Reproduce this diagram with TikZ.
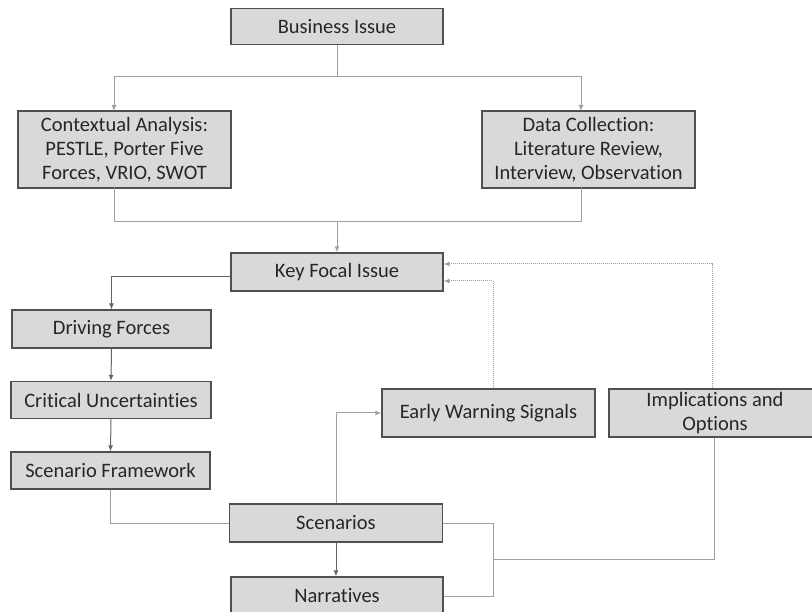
\documentclass[tikz,border=0pt]{standalone}
\usepackage{fontspec}
\setmainfont{Carlito}[Ligatures=NoCommon]
\usetikzlibrary{arrows.meta}

\definecolor{boxfill}{RGB}{217,217,217}
\definecolor{boxline}{RGB}{80,80,80}
\definecolor{linkgray}{RGB}{160,160,160}
\definecolor{flowgray}{RGB}{100,100,100}

\begin{document}
\begin{tikzpicture}[x=1pt, y=-1pt,
  >={Latex[length=6pt,width=5pt]},
  box/.style={draw=boxline, fill=boxfill, line width=1.3pt, inner sep=2pt,
    font=\fontsize{20.5}{24}\selectfont, align=center, text=black!85},
  link/.style={draw=linkgray, line width=1pt},
  flow/.style={draw=flowgray, line width=1pt},
  hint/.style={draw=linkgray, line width=1pt, densely dotted}]

\useasboundingbox (0,0) rectangle (812,612);

% ============================
% Nodes
% ============================
\node[box, minimum width=212pt, minimum height=36pt] (biz)   at (337,26.5) {Business Issue};
\node[box, minimum width=213pt, minimum height=77pt] (ctx)   at (124.5,149.5)
  {Contextual Analysis:\\PESTLE, Porter Five\\Forces, VRIO, SWOT};
\node[box, minimum width=213pt, minimum height=77pt] (data)  at (588.5,149.5)
  {Data Collection:\\Literature Review,\\Interview, Observation};
\node[box, minimum width=212pt, minimum height=38pt] (focal) at (337,272) {Key Focal Issue};

\node[box, minimum width=199pt, minimum height=38pt] (drive) at (111.5,329) {Driving Forces};
\node[box, minimum width=200pt, minimum height=37pt] (crit)  at (111,400) {Critical Uncertainties};
\node[box, minimum width=199pt, minimum height=37pt] (frame) at (110.5,470.5) {Scenario Framework};

\node[box, minimum width=213pt, minimum height=38pt] (scen)  at (336,523) {Scenarios};
\node[box, minimum width=212pt, minimum height=38pt] (narr)  at (337,596) {Narratives};

\node[box, minimum width=213pt, minimum height=48pt] (warn)  at (488.5,413) {Early Warning Signals};
\node[box, minimum width=212pt, minimum height=48pt] (impl)  at (715,413)
  {Implications and\\Options};

% Junction points
\coordinate (split) at (337,77);
\coordinate (merge) at (337,222);
\coordinate (join)  at (493,559);

% ============================
% Business issue -> analysis
% ============================
\draw[link] (biz.south) -- (split);
\draw[link,->] (split) -| (114,111);
\draw[link,->] (split) -| (581,111);

% analysis -> key focal issue
\draw[link] (114,188) |- (merge);
\draw[link] (581,188) |- (merge);
\draw[link,->] (merge) -- (focal.north);

% ============================
% Left chain
% ============================
\draw[flow,->] (focal.west |- 0,277) -| (drive.north);
\draw[flow,->] (drive.south) -- (crit.north);
\draw[flow,->] (crit.south) -- (frame.north);
\draw[link] (frame.south) |- (scen.west);

% ============================
% Scenarios outputs
% ============================
\draw[link,->] (scen.north) |- (warn.west);
\draw[flow,->] (scen.south) -- (scen.south |- narr.north);
\draw[link] (scen.east) -| (join);
\draw[link] (narr.east) -| (join);
\draw[link] (impl.south -| 714,0) |- (join);

% ============================
% Feedback (dotted)
% ============================
\draw[hint,->] (impl.north -| 712,0) |- (focal.east |- 0,264);
\draw[hint,->] (warn.north -| 493,0) |- (focal.east |- 0,281);

\end{tikzpicture}
\end{document}
